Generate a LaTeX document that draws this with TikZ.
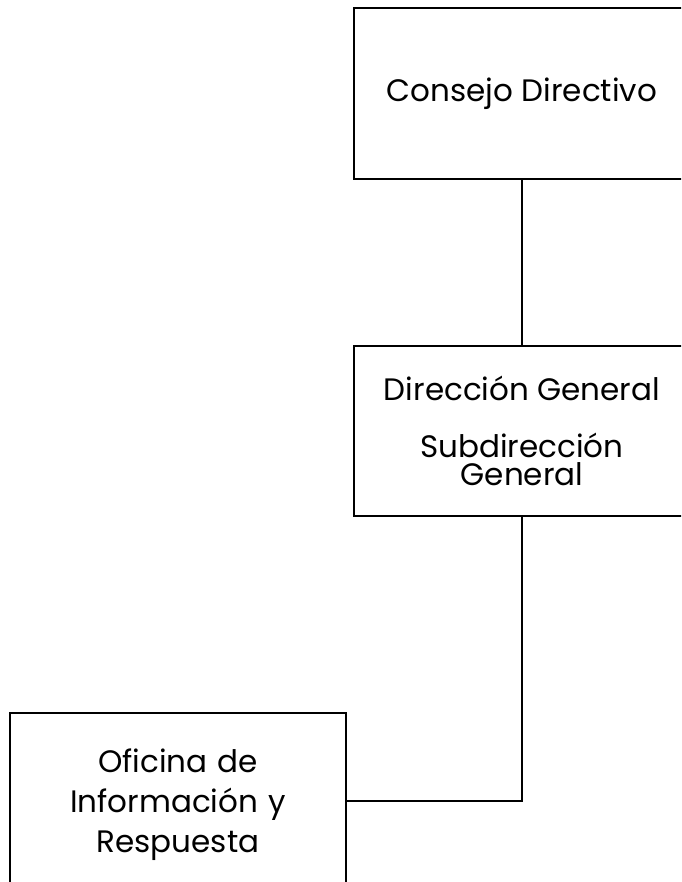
\documentclass[tikz,border=0pt]{standalone}
\usepackage{fontspec}
\setmainfont{Poppins}
\usetikzlibrary{positioning}
\tikzset{caja/.style={draw, line width=1.2pt, align=center, inner sep=0pt, font=\fontsize{31}{40}\selectfont}}

\begin{document}
\begin{tikzpicture}[x=1pt, y=-1pt]
				\useasboundingbox (0, 0) rectangle (681, 882);
				\clip (0, 0) rectangle (681, 882);
				
				\node[caja, minimum width=336pt, minimum height=171pt] (consejo) at (522, 93.5) {Consejo Directivo};
				
				\node[caja, minimum width=336pt, minimum height=170pt] (direccion) at (522, 431) {Direcci\'on General\\[17pt]
					Subdirecci\'on\\[-12pt]General};
				
				\node[caja, minimum width=336pt, minimum height=184pt, text width=320pt] (oficina) at (178, 805) {Oficina de\\Informaci\'on y\\Respuesta};
				
				\draw[line width=1.2pt] (consejo.south) -- (direccion.north);
				\draw[line width=1.2pt] (direccion.south) |- ([yshift=4pt]oficina.east);
			\end{tikzpicture}
\end{document}
